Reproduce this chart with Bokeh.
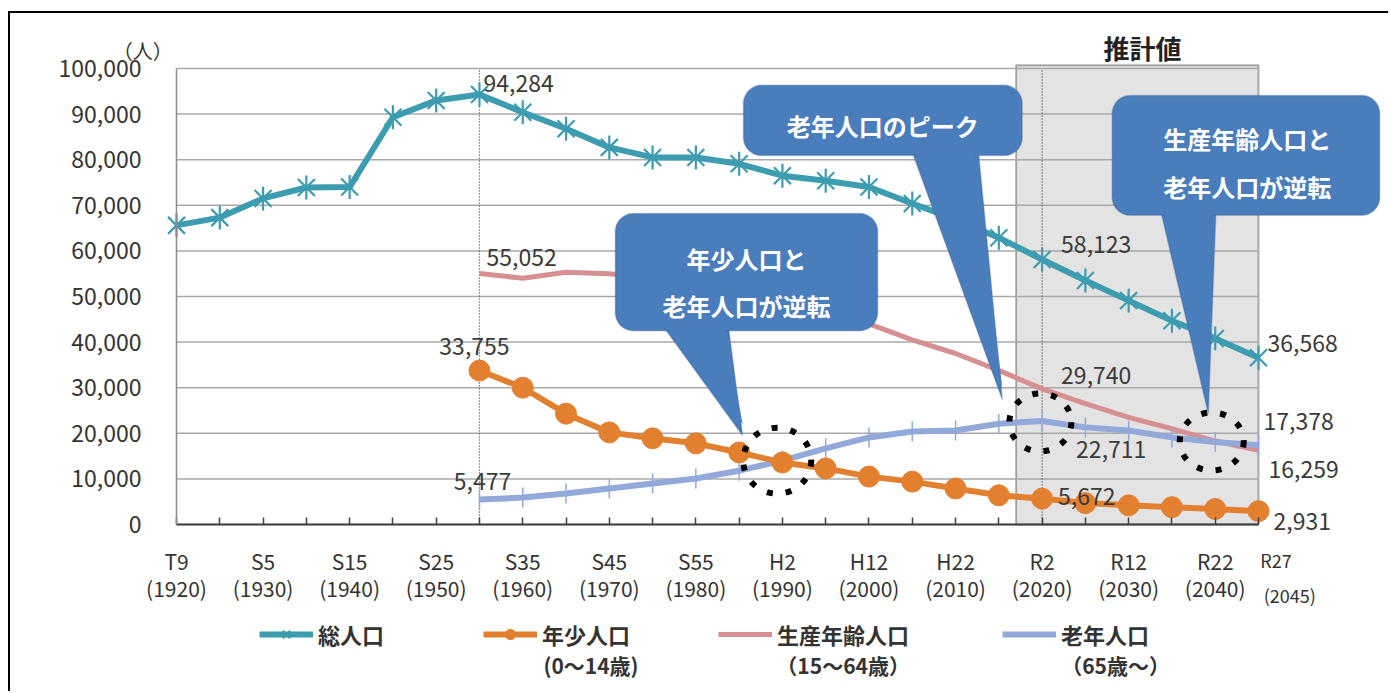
import numpy as np
from bokeh.plotting import figure
from bokeh.models import (FixedTicker, BoxAnnotation, PolyAnnotation,
                          Label, Legend, LegendItem, NumeralTickFormatter)
from bokeh.core.properties import value
from bokeh.embed import file_html
from bokeh.resources import INLINE

# ---- data -------------------------------------------------------------
years = list(range(1920, 2050, 5))
total = [65600, 67300, 71500, 73900, 74000, 89300, 93000, 94284, 90400, 86800,
         82700, 80500, 80500, 79100, 76500, 75400, 74000, 70400, 66900, 62900,
         58123, 53500, 49100, 44700, 40800, 36568]

years_age = list(range(1955, 2050, 5))
youth = [33755, 30000, 24300, 20200, 18900, 17800, 15800, 13600, 12300, 10500,
         9400, 7900, 6400, 5672, 4700, 4200, 3800, 3400, 2931]
working = [55052, 54000, 55300, 55000, 54000, 53000, 51500, 49000, 46500, 44000,
           40500, 37500, 33800, 29740, 26500, 23500, 21000, 18300, 16259]
elderly = [5477, 5900, 6800, 7900, 9000, 10100, 11800, 14000, 16700, 19100,
           20400, 20600, 22100, 22711, 21300, 20600, 19100, 18100, 17378]

tick_years = [1920, 1930, 1940, 1950, 1960, 1970, 1980, 1990, 2000, 2010, 2020, 2030, 2040]
tick_eras = ["T9", "S5", "S15", "S25", "S35", "S45", "S55", "H2", "H12", "H22", "R2", "R12", "R22"]
last_year, last_era = 2045, "R27"
y_ticks = list(range(0, 100001, 10000))

series_names = ["総人口", "年少人口", "生産年齢人口", "老年人口"]
series_notes = ["", "(0〜14歳)", "（15〜64歳）", "（65歳〜）"]

TEAL = "#3D9CB0"
ORANGE = "#E3802F"
PINK = "#D69092"
LAVENDER = "#93A9DA"
CALLOUT_FILL = "#4A7DBB"
CALLOUT_LINE = "#355F91"
TEXT = "#3A3A3A"
FONT = "Noto Sans CJK JP"

# ---- canvas geometry: the whole canvas is the frame, axes are pinned ----
W, H = 1380, 680
PX_PER_YEAR = 1082 / 125
PX_PER_PERSON = 456 / 100000
x_start = 1920 - 166 / PX_PER_YEAR
y_top = 100000 + 55 / PX_PER_PERSON
x_range = (x_start, x_start + W / PX_PER_YEAR)
y_range = (y_top - H / PX_PER_PERSON, y_top)

p = figure(width=W, height=H, x_range=x_range, y_range=y_range,
           output_backend="svg", toolbar_location=None,
           min_border=0, min_border_left=0, min_border_right=0,
           min_border_top=0, min_border_bottom=0)
p.styles = {"margin-left": "8px", "margin-top": "11px",
            "border-left": "2px solid #000", "border-top": "2px solid #000"}
p.outline_line_color = None
p.background_fill_color = "white"
p.border_fill_color = "white"
p.grid.visible = False

# forecast period shading
p.add_layout(BoxAnnotation(left=2017, right=2045, bottom=0, top=100700, level="image",
                           fill_color="#E3E3E3", fill_alpha=1.0,
                           line_color="black", line_width=2))

# horizontal gridlines over the data span
p.segment(x0=years[0], x1=years[-1], y0=y_ticks, y1=y_ticks,
          line_color="#A9A9A9", line_width=1.5)

# axes
p.yaxis.fixed_location = years[0]
p.yaxis.bounds = (0, 100000)
p.yaxis.ticker = FixedTicker(ticks=y_ticks)
p.yaxis.formatter = NumeralTickFormatter(format="0,0")
p.yaxis.major_tick_line_color = None
p.yaxis.minor_tick_line_color = None
p.yaxis.axis_line_color = "#8C8C8C"
p.yaxis.axis_line_width = 1.5
p.yaxis.major_label_standoff = 29
p.yaxis.major_label_text_font = FONT
p.yaxis.major_label_text_font_size = "23px"
p.yaxis.major_label_text_color = "#333333"

p.xaxis.fixed_location = 0
p.xaxis.bounds = (years[0], years[-1])
p.xaxis.ticker = FixedTicker(ticks=years)
overrides = {y: "" for y in years}
overrides.update({y: f"{e}\n({y})" for y, e in zip(tick_years, tick_eras)})
p.xaxis.major_label_overrides = overrides
p.xaxis.major_tick_in = 7
p.xaxis.major_tick_out = 0
p.xaxis.major_tick_line_color = "#404040"
p.xaxis.major_tick_line_width = 1.5
p.xaxis.minor_tick_line_color = None
p.xaxis.axis_line_color = "#404040"
p.xaxis.axis_line_width = 2
p.xaxis.major_label_standoff = 21
p.xaxis.major_label_text_font = FONT
p.xaxis.major_label_text_font_size = "21px"
p.xaxis.major_label_text_color = "#333333"
p.xaxis.major_label_text_line_height = 0.92

for txt, dx, dy in [(last_era, 0.2, -7700), (f"({last_year})", 0.6, -15400)]:
    p.add_layout(Label(x=last_year + dx, y=dy, text=txt, text_align="left",
                       text_baseline="middle", text_font=FONT, text_font_size="18px",
                       text_color="#333333"))

# dotted reference lines at the peak year and the base year of the projection
p.segment(x0=[1955, 2020], x1=[1955, 2020], y0=0, y1=100000,
          line_color="#333333", line_width=1.2, line_dash="1 2")

# ---- series -------------------------------------------------------------
r_total = p.line(years, total, line_color=TEAL, line_width=6)
r_total_x = p.scatter(years, total, marker="x", size=24, line_color=TEAL, line_width=2.2)
r_total_v = p.scatter(years, total, marker="dash", angle=np.pi / 2, size=24,
                      line_color=TEAL, line_width=2.2)

r_work = p.line(years_age, working, line_color=PINK, line_width=5)

r_old = p.line(years_age, elderly, line_color=LAVENDER, line_width=6)
r_old_t = p.scatter(years_age, elderly, marker="dash", angle=np.pi / 2, size=20,
                    line_color=LAVENDER, line_width=1.5)

r_young = p.line(years_age, youth, line_color=ORANGE, line_width=6)
r_young_c = p.scatter(years_age, youth, marker="circle", size=21,
                      fill_color=ORANGE, line_color=ORANGE)

# ---- value labels -------------------------------------------------------
def idx(yr):
    return years_age.index(yr)

label_specs = [
    (1955, total[years.index(1955)], 4, -11, "left"),
    (1955, working[idx(1955)], 7, -16, "left"),
    (1955, youth[idx(1955)], -5, -24, "center"),
    (1955, elderly[idx(1955)], 3, -18, "center"),
    (2020, total[years.index(2020)], 19, -15, "left"),
    (2020, working[idx(2020)], 19, -13, "left"),
    (2020, elderly[idx(2020)], 34, 29, "left"),
    (2020, youth[idx(2020)], 16, -2, "left"),
    (2045, total[-1], 9, -14, "left"),
    (2045, elderly[-1], 5, -24, "left"),
    (2045, working[-1], 10, 19, "left"),
    (2045, youth[-1], 15, 10, "left"),
]
for x, v, dx, dy, al in label_specs:
    p.text(x=[x], y=[v], text=[f"{v:,}"], x_offset=dx, y_offset=dy,
           text_align=al, text_baseline="middle", text_font=value(FONT),
           text_font_size="23px", text_color=TEXT)

# ---- highlight rings ----------------------------------------------------
ring_x = [1989.4, 2019.8, 2039.6]
ring_y = [14000, 22400, 18200]
ring_w = [68, 62, 64]
ring_h = [66, 58, 58]
p.ellipse(x=ring_x, y=ring_y, width=ring_w, height=ring_h,
          width_units="screen", height_units="screen", fill_color=None,
          line_color="black", line_width=6, line_dash="6 13")

# ---- callouts -----------------------------------------------------------
def callout(box, base, tip, text, center):
    left, right, top, bottom = box
    bl, br = base
    tx, ty = tip
    inset = 1800
    p.add_layout(PolyAnnotation(xs=[bl, br, tx], ys=[bottom + inset, bottom + inset, ty],
                                fill_color=CALLOUT_FILL, fill_alpha=1,
                                line_color=CALLOUT_LINE, line_width=1.5))
    p.add_layout(BoxAnnotation(left=left, right=right, top=top, bottom=bottom,
                               border_radius=18, fill_color=CALLOUT_FILL, fill_alpha=1,
                               line_color=CALLOUT_LINE, line_width=1.5))
    p.add_layout(PolyAnnotation(xs=[bl + 0.45, br - 0.45, tx], ys=[bottom + inset, bottom + inset, ty + 2500],
                                fill_color=CALLOUT_FILL, fill_alpha=1,
                                line_color=None))
    p.add_layout(Label(x=center[0], y=center[1], text=text, text_align="center",
                       text_baseline="middle", text_font=FONT, text_font_size="24px",
                       text_font_style="bold", text_color="white", text_line_height=1.35))

callout((1970.7, 2001.0, 68200, 42500), (1975.9, 1983.7), (1985.4, 19500),
        "年少人口と\n老年人口が逆転", (1985.85, 53200))
callout((1985.5, 2017.7, 96300, 80900), (2004.8, 2012.6), (2015.4, 27400),
        "老年人口のピーク", (2001.6, 87500))
callout((2028.1, 2059.0, 94100, 67800), (2033.6, 2040.1), (2039.2, 24300),
        "生産年齢人口と\n老年人口が逆転", (2043.7, 79400))

# ---- titles and unit ------------------------------------------------------
p.add_layout(Label(x=1916.1, y=103900, text="（人）", text_align="center",
                   text_baseline="middle", text_font=FONT, text_font_size="20px",
                   text_color="#333333"))
p.add_layout(Label(x=2031.6, y=104600, text="推計値", text_align="center",
                   text_baseline="middle", text_font=FONT, text_font_size="26px",
                   text_font_style="bold", text_color="#222222"))

# ---- legend ---------------------------------------------------------------
legend_renderers = [[r_total, r_total_x, r_total_v], [r_young, r_young_c], [r_work], [r_old, r_old_t]]
legend_x = [249, 473, 708, 992]
note_x = [None, 1962.4, 1989.3, 2022.2]
for name, rends, lx, note, nx in zip(series_names, legend_renderers, legend_x, series_notes, note_x):
    lg = Legend(items=[LegendItem(label=name, renderers=rends)], location=(lx, 43),
                orientation="horizontal", padding=0, margin=0, spacing=0,
                border_line_color=None, background_fill_alpha=0,
                glyph_width=54, glyph_height=26, label_height=26, label_standoff=5,
                label_text_font=FONT, label_text_font_size="22px",
                label_text_font_style="bold", label_text_color="#333333")
    p.add_layout(lg, "center")
    if note:
        p.add_layout(Label(x=nx, y=-30900, text=note, text_align="left",
                           text_baseline="middle", text_font=FONT, text_font_size="21px",
                           text_font_style="bold", text_color="#333333"))

open("out.html", "w").write(file_html(p, INLINE))
